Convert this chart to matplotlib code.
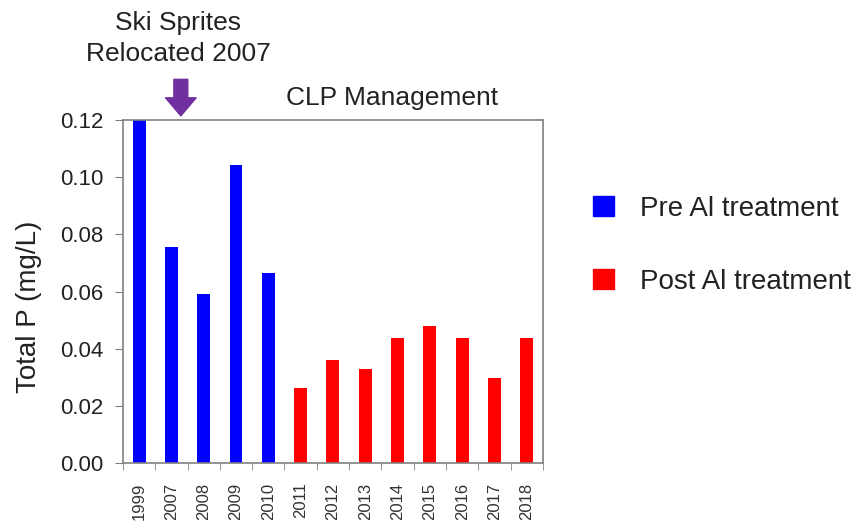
import matplotlib.pyplot as plt
from matplotlib.patches import Patch

plt.rcParams['font.family'] = ['Liberation Sans', 'DejaVu Sans']

# Data
years = ["1999", "2007", "2008", "2009", "2010", "2011", "2012",
         "2013", "2014", "2015", "2016", "2017", "2018"]
total_p = [0.12, 0.0756, 0.0591, 0.1042, 0.0665, 0.0261, 0.0359,
           0.0329, 0.0436, 0.0481, 0.0436, 0.0297, 0.0436]
is_pre = [True, True, True, True, True, False, False,
          False, False, False, False, False, False]

PRE_COLOR = "#0000FF"
POST_COLOR = "#FF0000"
AXIS_COLOR = "#808080"
TEXT_COLOR = "#222222"

fig = plt.figure(figsize=(8.57, 5.22), dpi=100)
ax = fig.add_axes([0.1435, 0.113, 0.49, 0.657])

colors = [PRE_COLOR if p else POST_COLOR for p in is_pre]
ax.bar(range(len(years)), total_p, width=0.4, color=colors)

ax.set_xlim(-0.5, len(years) - 0.5)
ax.set_ylim(0, 0.12)
ax.set_yticks([0, 0.02, 0.04, 0.06, 0.08, 0.10, 0.12])
ax.set_yticklabels([f"{v:.2f}" for v in ax.get_yticks()], fontsize=16)
ax.set_xticks(range(len(years)))
ax.set_xticklabels(years, rotation=90, fontsize=12, color="#333333")
ax.set_xticks([i - 0.5 for i in range(len(years) + 1)], minor=True)
ax.tick_params(axis="x", which="major", length=0, pad=14)
ax.tick_params(axis="x", which="minor", length=5, color=AXIS_COLOR)
ax.tick_params(axis="y", length=6, pad=8, color=AXIS_COLOR,
               labelcolor=TEXT_COLOR)
for side in ax.spines.values():
    side.set_color(AXIS_COLOR)
    side.set_linewidth(1.2)

ax.set_ylabel("Total P (mg/L)", fontsize=20, color=TEXT_COLOR)
ax.yaxis.set_label_coords(-0.193, 0.455)

fig.text(0.458, 0.813, "CLP Management", fontsize=19, ha="center",
         va="center", color=TEXT_COLOR)
fig.text(0.208, 0.926, "Ski Sprites\nRelocated 2007", fontsize=19,
         ha="center", va="center", color=TEXT_COLOR, linespacing=1.35)

# purple down arrow
ax.annotate("", xy=(0.211, 0.778), xycoords="figure fraction",
            xytext=(0.211, 0.848), textcoords="figure fraction",
            arrowprops=dict(arrowstyle="simple,head_width=2.2,head_length=1.3,tail_width=1.0",
                            color="#7030A0", shrinkA=0, shrinkB=0))

handles = [Patch(color=PRE_COLOR), Patch(color=POST_COLOR)]
fig.legend(handles, ["Pre Al treatment", "Post Al treatment"],
           loc="center left", bbox_to_anchor=(0.663, 0.53), frameon=False,
           fontsize=20, handlelength=0.75, handleheight=0.75,
           labelspacing=1.68, handletextpad=0.95, labelcolor=TEXT_COLOR)

fig.savefig("out.png", dpi=100)
